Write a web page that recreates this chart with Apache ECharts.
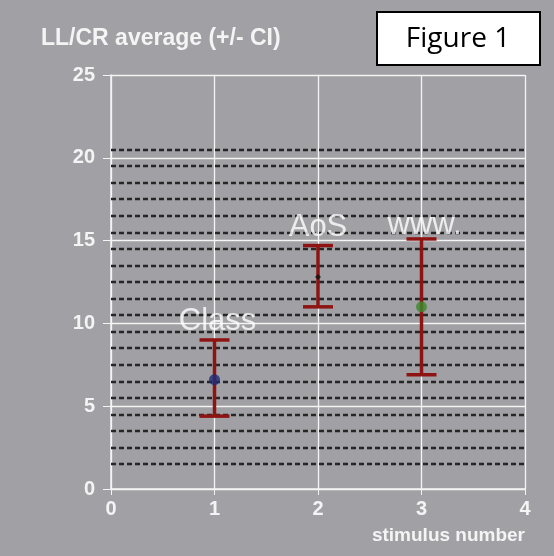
<!DOCTYPE html>
<html><head><meta charset="utf-8">
<script src="https://cdn.jsdelivr.net/npm/echarts@6/dist/echarts.min.js"></script>
<style>html,body{margin:0;padding:0;background:#a1a0a5;}#c{width:554px;height:556px;}</style>
</head><body><div id="c"></div>
<script>
var stimuli = [1, 2, 3];
var labels = ['Class', 'AoS', 'www.'];
var means = [6.6, 12.8, 11.0];
var upper = [9.0, 14.7, 15.1];
var lower = [4.4, 11.0, 6.9];
var labelX = [1.03, 2.0, 3.03];
var labelY = [10.1, 15.8, 15.9];
var pointColors = ['#1f2a78', '#111111', '#3c8a2c'];
var dashedLevels = [1.5,2.5,3.5,4.5,5.5,6.5,7.5,8.5,9.5,10.5,11.5,12.5,13.5,14.5,15.5,16.5,17.5,18.5,19.5,20.5];

var chart = echarts.init(document.getElementById('c'), null, {renderer:'canvas'});
var white = '#f4f4f4';
var boldFont = 'Liberation Sans, Arial';
var option = {
  backgroundColor: '#a1a0a5',
  animation: false,
  graphic: [
    {type:'text', x:41, y:39, style:{text:'LL/CR average (+/- CI)', fill:white, font:'bold 23px "Liberation Sans", Arial', textVerticalAlign:'middle'}},
    {type:'rect', shape:{x:377, y:12, width:163, height:53}, style:{fill:'#ffffff', stroke:'#000000', lineWidth:2}},
    {type:'text', x:458, y:39, style:{text:'Figure 1', fill:'#000', font:'28px "Open Sans", sans-serif', textAlign:'center', textVerticalAlign:'middle'}}
  ],
  grid: {left: 111, right: 29, top: 75, bottom: 67},
  xAxis: {type:'value', min:0, max:4, interval:1,
    name:'stimulus number', nameLocation:'end', nameGap: 0,
    nameTextStyle:{color:white, fontFamily:boldFont, fontWeight:'bold', fontSize:19, align:'right', verticalAlign:'top', padding:[37,0,0,0]},
    axisLine:{show:true, onZero:false, lineStyle:{color:white, width:1.5}},
    axisTick:{show:true, length:6, lineStyle:{color:white}},
    axisLabel:{color:white, fontFamily:boldFont, fontWeight:'bold', fontSize:20, margin:10},
    splitLine:{show:true, lineStyle:{color:white, width:1.3}}},
  yAxis: {type:'value', min:0, max:25, interval:5,
    axisLine:{show:true, lineStyle:{color:white, width:1.5}},
    axisTick:{show:true, length:8, lineStyle:{color:white}},
    axisLabel:{color:white, fontFamily:boldFont, fontWeight:'bold', fontSize:20, margin:16},
    splitLine:{show:true, lineStyle:{color:white, width:1.3}}},
  series: [
    {type:'line', data:[], silent:true,
     markLine:{silent:true, symbol:['none','none'], label:{show:false},
       lineStyle:{color:'#262626', type:[5,3], width:2.4},
       data: dashedLevels.map(function(v){return {yAxis:v};})}},
    {type:'custom', z:5,
     renderItem:function(params, api){
       var x = api.value(0);
       var top = api.coord([x, api.value(1)]);
       var bot = api.coord([x, api.value(2)]);
       var hw = 15;
       var st = {stroke:'#8e1414', lineWidth:3.5};
       return {type:'group', children:[
         {type:'line', shape:{x1:top[0], y1:top[1], x2:bot[0], y2:bot[1]}, style:st},
         {type:'line', shape:{x1:top[0]-hw, y1:top[1], x2:top[0]+hw, y2:top[1]}, style:st},
         {type:'line', shape:{x1:bot[0]-hw, y1:bot[1], x2:bot[0]+hw, y2:bot[1]}, style:st}
       ]};
     },
     data: stimuli.map(function(s,i){return [s, upper[i], lower[i]];})},
    {type:'scatter', z:6,
     data: stimuli.map(function(s,i){return {value:[s, means[i]], symbol: i===1?'diamond':'circle', symbolSize: i===1?6:11, itemStyle:{color:pointColors[i]}};})},
    {type:'scatter', z:7, symbolSize:0,
     label:{show:true, position:'inside', formatter:function(p){return labels[p.dataIndex];},
       color:'#ffffff', fontFamily:'Liberation Sans, Arial', fontSize:31},
     data: labelX.map(function(x,i){return [x, labelY[i]];})}
  ]
};
chart.setOption(option);
</script></body></html>
